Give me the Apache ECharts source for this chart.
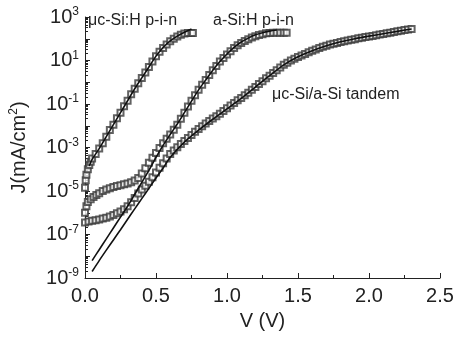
<!DOCTYPE html>
<html>
<head>
<meta charset="utf-8">
<script src="https://cdn.jsdelivr.net/npm/echarts/dist/echarts.min.js"></script>
<style>
  html, body { margin: 0; padding: 0; background: #fff; }
  #main { width: 457px; height: 339px; }
</style>
</head>
<body>
<div id="main"></div>
<script>
// values stored as log10(J), J in mA/cm^2
const muV = [0, 0.005, 0.01, 0.02, 0.03, 0.04, 0.05, 0.075, 0.1, 0.125, 0.15, 0.175, 0.2, 0.225, 0.25, 0.275, 0.3, 0.325, 0.35, 0.375, 0.4, 0.425, 0.45, 0.475, 0.5, 0.525, 0.55, 0.575, 0.6, 0.625, 0.65, 0.675, 0.7, 0.725, 0.75, 0.76];
const muExp = [-4.85, -4.5, -4.25, -4.0, -3.8, -3.65, -3.5, -3.3, -3.05, -2.8, -2.5, -2.2, -1.95, -1.65, -1.4, -1.1, -0.85, -0.55, -0.3, -0.05, 0.2, 0.45, 0.7, 0.95, 1.2, 1.4, 1.58, 1.74, 1.88, 2.0, 2.1, 2.18, 2.24, 2.27, 2.27, 2.27];
const muFitV = [0.03, 0.05, 0.1, 0.15, 0.2, 0.25, 0.3, 0.35, 0.4, 0.45, 0.5, 0.55, 0.6, 0.65, 0.7, 0.75];
const muFitExp = [-3.85, -3.55, -3.05, -2.5, -1.95, -1.4, -0.85, -0.3, 0.2, 0.7, 1.2, 1.6, 1.9, 2.12, 2.3, 2.45];

const aV = [0, 0.01, 0.02, 0.04, 0.06, 0.08, 0.1, 0.125, 0.15, 0.175, 0.2, 0.225, 0.25, 0.275, 0.3, 0.325, 0.35, 0.375, 0.4, 0.425, 0.45, 0.475, 0.5, 0.525, 0.55, 0.575, 0.6, 0.625, 0.65, 0.675, 0.7, 0.725, 0.75, 0.775, 0.8, 0.825, 0.85, 0.875, 0.9, 0.925, 0.95, 0.975, 1.0, 1.025, 1.05, 1.075, 1.1, 1.125, 1.15, 1.175, 1.2, 1.225, 1.25, 1.275, 1.3, 1.325, 1.35, 1.375, 1.4, 1.42];
const aExp = [-6.0, -5.7, -5.5, -5.38, -5.28, -5.18, -5.1, -5.0, -4.93, -4.87, -4.82, -4.77, -4.73, -4.69, -4.65, -4.6, -4.52, -4.4, -4.2, -3.95, -3.7, -3.47, -3.25, -3.02, -2.8, -2.6, -2.4, -2.18, -1.95, -1.68, -1.4, -1.12, -0.85, -0.6, -0.35, -0.12, 0.1, 0.33, 0.55, 0.75, 0.95, 1.12, 1.28, 1.43, 1.57, 1.7, 1.8, 1.9, 1.98, 2.06, 2.12, 2.17, 2.21, 2.25, 2.27, 2.28, 2.28, 2.28, 2.28, 2.28];
const aFitV = [0.05, 0.1, 0.15, 0.2, 0.25, 0.3, 0.35, 0.4, 0.45, 0.5, 0.55, 0.6, 0.65, 0.7, 0.75, 0.8, 0.85, 0.9, 0.95, 1.0, 1.05, 1.1, 1.15, 1.2, 1.25, 1.3, 1.35];
const aFitExp = [-8.2, -7.7, -7.2, -6.7, -6.2, -5.7, -5.15, -4.6, -4.05, -3.45, -2.9, -2.4, -1.92, -1.4, -0.87, -0.35, 0.1, 0.55, 0.95, 1.3, 1.6, 1.85, 2.03, 2.18, 2.28, 2.35, 2.4];

const tV = [0, 0.025, 0.05, 0.075, 0.1, 0.125, 0.15, 0.175, 0.2, 0.225, 0.25, 0.275, 0.3, 0.325, 0.35, 0.375, 0.4, 0.425, 0.45, 0.475,
  0.5, 0.525, 0.55, 0.575, 0.6, 0.625, 0.65, 0.675, 0.7, 0.725, 0.75, 0.775, 0.8, 0.825, 0.85, 0.875, 0.9, 0.925, 0.95, 0.975,
  1.0, 1.025, 1.05, 1.075, 1.1, 1.125, 1.15, 1.175, 1.2, 1.225, 1.25, 1.275, 1.3, 1.325, 1.35, 1.375, 1.4, 1.425, 1.45, 1.475,
  1.5, 1.525, 1.55, 1.575, 1.6, 1.625, 1.65, 1.675, 1.7, 1.725, 1.75, 1.775, 1.8, 1.825, 1.85, 1.875, 1.9, 1.925, 1.95, 1.975,
  2.0, 2.025, 2.05, 2.075, 2.1, 2.125, 2.15, 2.175, 2.2, 2.225, 2.25, 2.275, 2.3];
const tExp = [-6.45, -6.4, -6.37, -6.34, -6.31, -6.27, -6.23, -6.17, -6.1, -6.02, -5.94, -5.84, -5.7, -5.52, -5.32, -5.12, -4.93, -4.76, -4.58, -4.37,
  -4.15, -3.93, -3.72, -3.5, -3.3, -3.14, -2.99, -2.84, -2.7, -2.56, -2.42, -2.28, -2.15, -2.02, -1.9, -1.78, -1.67, -1.56, -1.45, -1.32,
  -1.2, -1.07, -0.95, -0.83, -0.72, -0.6, -0.48, -0.35, -0.22, -0.08, 0.05, 0.18, 0.3, 0.43, 0.55, 0.68, 0.8, 0.9, 1.0, 1.08,
  1.16, 1.23, 1.3, 1.38, 1.45, 1.51, 1.57, 1.63, 1.68, 1.73, 1.77, 1.81, 1.85, 1.89, 1.92, 1.95, 1.98, 2.02, 2.05, 2.08,
  2.1, 2.13, 2.16, 2.19, 2.22, 2.25, 2.28, 2.31, 2.34, 2.37, 2.4, 2.42, 2.45];
const tFitV = [0.05, 0.1, 0.15, 0.2, 0.25, 0.3, 0.35, 0.4, 0.45, 0.5, 0.55, 0.6, 0.7, 0.8, 0.9, 1.0, 1.1, 1.2, 1.3, 1.4, 1.5, 1.6, 1.7, 1.8, 1.9, 2.0, 2.1, 2.2, 2.3];
const tFitExp = [-8.7, -8.2, -7.72, -7.25, -6.78, -6.3, -5.82, -5.35, -4.88, -4.4, -3.95, -3.45, -2.75, -2.2, -1.7, -1.22, -0.74, -0.22, 0.3, 0.8, 1.17, 1.45, 1.68, 1.86, 2.0, 2.12, 2.23, 2.34, 2.45];

const xTicks = [0, 0.5, 1.0, 1.5, 2.0, 2.5];
const labels = ['μc-Si:H p-i-n', 'a-Si:H p-i-n', 'μc-Si/a-Si tandem'];

function pairs(xs, es) {
  return xs.map((v, i) => [v, Math.pow(10, es[i])]);
}

const font = 'Liberation Sans, Arial, sans-serif';
const ink = '#222';

function markers(xs, es) {
  return {
    type: 'scatter',
    data: pairs(xs, es),
    symbol: 'emptyRect',
    symbolSize: 6,
    itemStyle: { color: '#3a3a3a', borderWidth: 1 },
    silent: true,
    z: 2
  };
}
function fit(xs, es) {
  return {
    type: 'line',
    data: pairs(xs, es),
    showSymbol: false,
    smooth: 0.3,
    lineStyle: { color: '#111', width: 1.6 },
    silent: true,
    z: 3
  };
}

const chart = echarts.init(document.getElementById('main'));
chart.setOption({
  animation: false,
  backgroundColor: '#fff',
  grid: { left: 85, right: 17, top: 17, bottom: 61 },
  xAxis: {
    type: 'value',
    min: xTicks[0],
    max: xTicks[xTicks.length - 1],
    interval: 0.5,
    name: 'V (V)',
    nameLocation: 'middle',
    nameGap: 33,
    nameTextStyle: { fontFamily: font, fontSize: 20, color: ink },
    axisLine: { lineStyle: { color: ink, width: 1 } },
    axisTick: { inside: true, length: 5, lineStyle: { color: ink } },
    minorTick: { show: true, splitNumber: 2, length: 3, lineStyle: { color: ink } },
    splitLine: { show: false },
    axisLabel: {
      fontFamily: font, fontSize: 20, color: ink, margin: 8,
      formatter: v => v.toFixed(1)
    }
  },
  yAxis: {
    type: 'log',
    logBase: 10,
    min: 1e-9,
    max: 1e3,
    interval: 1,
    splitNumber: 12,
    name: 'J(mA/cm{s|2})',
    nameLocation: 'middle',
    nameGap: 55,
    nameTextStyle: {
      fontFamily: font, fontSize: 20, color: ink,
      rich: { s: { fontFamily: font, fontSize: 12, color: ink, verticalAlign: 'top', padding: [0, 0, 10, 0] } }
    },
    axisLine: { show: true, lineStyle: { color: ink, width: 1 } },
    axisTick: { show: true, inside: true, length: 5, lineStyle: { color: ink } },
    minorTick: { show: true, splitNumber: 8, length: 3, lineStyle: { color: ink } },
    splitLine: { show: false },
    axisLabel: {
      margin: 6,
      formatter: v => {
        const e = Math.round(Math.log10(v));
        if (Math.abs(e % 2) !== 1) return '';
        return '{b|10}{e|' + e + '}';
      },
      rich: {
        b: { fontFamily: font, fontSize: 20, color: ink },
        e: { fontFamily: font, fontSize: 12, color: ink, verticalAlign: 'top', padding: [0, 0, 10, 0] }
      }
    }
  },
  graphic: [
    { type: 'text', left: 88, top: 13, style: { text: labels[0], font: '16px ' + font, fill: ink } },
    { type: 'text', left: 213, top: 13, style: { text: labels[1], font: '16px ' + font, fill: ink } },
    { type: 'text', left: 272, top: 87, style: { text: labels[2], font: '16px ' + font, fill: ink } }
  ],
  series: [
    markers(muV, muExp),
    markers(aV, aExp),
    markers(tV, tExp),
    fit(muFitV, muFitExp),
    fit(aFitV, aFitExp),
    fit(tFitV, tFitExp)
  ]
});
</script>
</body>
</html>
